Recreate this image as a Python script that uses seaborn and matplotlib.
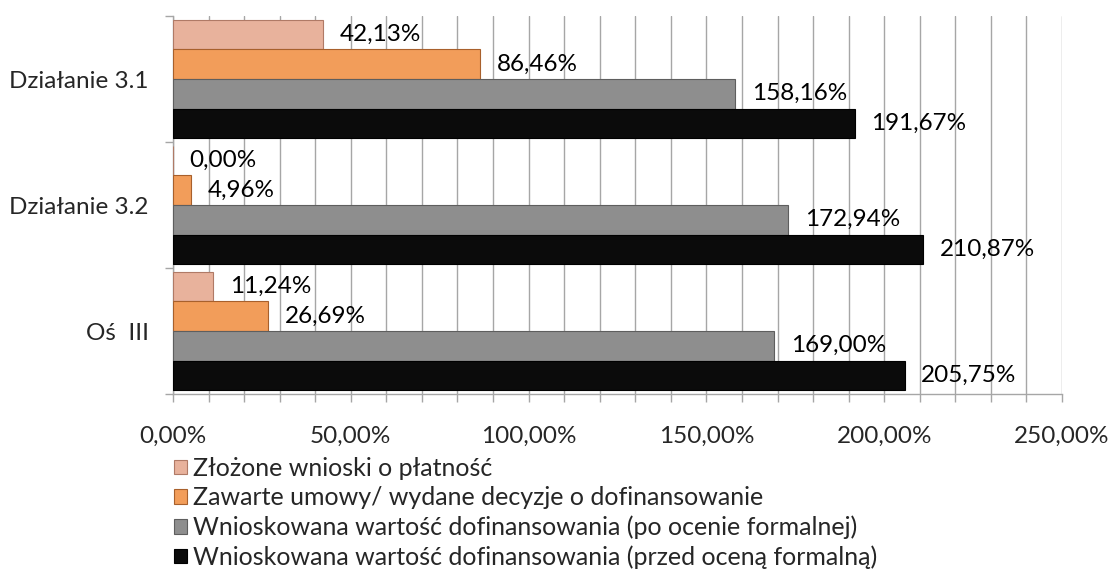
import numpy as np
import pandas as pd
import matplotlib
matplotlib.use("Agg")
import matplotlib.pyplot as plt
import seaborn as sns
from matplotlib.patches import Patch

categories = ["Działanie 3.1", "Działanie 3.2", "Oś  III"]
series = [
    "Złożone wnioski o płatność",
    "Zawarte umowy/ wydane decyzje o dofinansowanie",
    "Wnioskowana wartość dofinansowania (po ocenie formalnej)",
    "Wnioskowana wartość dofinansowania (przed oceną formalną)",
]
zlozone = [42.13, 0.00, 11.24]
zawarte = [86.46, 4.96, 26.69]
po_ocenie = [158.16, 172.94, 169.00]
przed_ocena = [191.67, 210.87, 205.75]
x_ticks = [0, 50, 100, 150, 200, 250]

colors = ["#E8B29C", "#F29D5A", "#8E8E8E", "#0B0B0B"]
edges = ["#B07A66", "#A8602C", "#5E5E5E", "#000000"]

rows = []
for s, vals in zip(series, [zlozone, zawarte, po_ocenie, przed_ocena]):
    for c, v in zip(categories, vals):
        rows.append({"cat": c, "series": s, "val": v})
df = pd.DataFrame(rows)

sns.set_theme(style="white")
plt.rcParams["font.family"] = ["Lato", "DejaVu Sans"]
FS = 17.5

fig = plt.figure(figsize=(11.12, 5.77), dpi=100)
ax = fig.add_axes([173 / 1112, 1 - 394 / 577, (1062 - 173) / 1112, (394 - 16) / 577])

sns.barplot(data=df, y="cat", x="val", hue="series", order=categories,
            hue_order=series, palette=colors, orient="h", width=0.94,
            saturation=1, ax=ax, legend=False, zorder=3)

for i, cont in enumerate(ax.containers):
    for bar in cont:
        bar.set_edgecolor(edges[i])
        bar.set_linewidth(0.8)
    labels = [f"{v:.2f}%".replace(".", ",") for v in cont.datavalues]
    ax.bar_label(cont, labels=labels, padding=12, fontsize=FS, color="black")

ax.set_xlim(0, 250)
ax.set_ylim(2.5, -0.5)
xt = np.arange(0, 251, 10)
ax.set_xticks(xt)
ax.set_xticklabels([f"{t:.2f}%".replace(".", ",") if t in x_ticks else "" for t in xt], fontsize=FS)
ax.xaxis.grid(True, color="#A6A6A6", linewidth=1.0, zorder=0)
ax.yaxis.grid(False)
ax.set_axisbelow(True)

ax.set_yticks([-0.5, 0.5, 1.5, 2.5])
ax.set_yticklabels([])
ax.set_yticks(range(len(categories)), minor=True)
ax.set_yticklabels(categories, minor=True, fontsize=FS)
ax.tick_params(axis="y", which="minor", length=0, pad=17.5)
ax.tick_params(axis="y", which="major", length=6, width=1, color="#A6A6A6", direction="out", left=True)
ax.tick_params(axis="x", length=6, width=1, color="#A6A6A6", direction="out", bottom=True, pad=17)

for side in ["top", "right"]:
    ax.spines[side].set_visible(False)
for side in ["left", "bottom"]:
    ax.spines[side].set_color("#A6A6A6")
    ax.spines[side].set_linewidth(1)
ax.set_xlabel("")
ax.set_ylabel("")

handles = [Patch(facecolor=c, edgecolor=e, linewidth=0.8) for c, e in zip(colors, edges)]
fig.legend(handles, series, loc="upper left", bbox_to_anchor=(174 / 1112, 1 - 457 / 577),
           frameon=False, fontsize=18, handlelength=0.52, handleheight=0.52,
           handletextpad=0.25, labelspacing=0.25, borderpad=0, borderaxespad=0)

fig.savefig("out.png", dpi=100)
